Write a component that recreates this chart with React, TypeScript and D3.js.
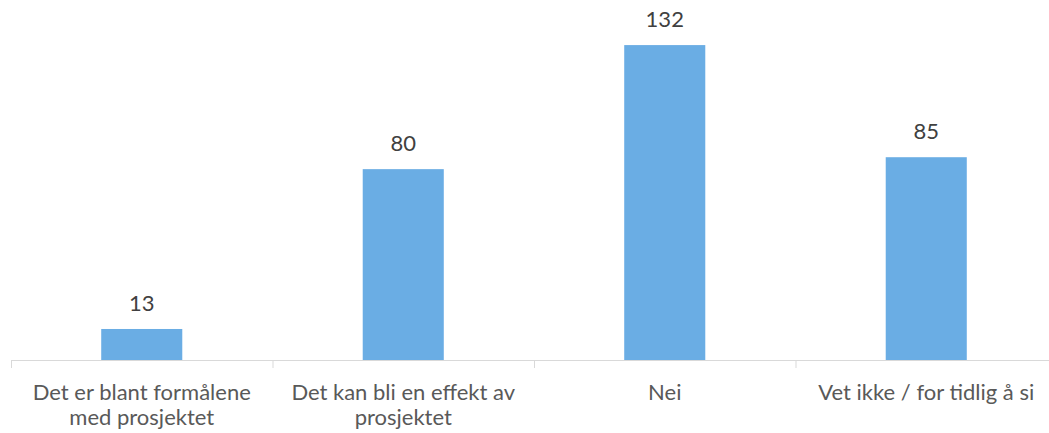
import React from "react";
import * as d3 from "d3";

const categories: string[][] = [
  ["Det er blant formålene", "med prosjektet"],
  ["Det kan bli en effekt av", "prosjektet"],
  ["Nei"],
  ["Vet ikke / for tidlig å si"],
];
const values: number[] = [13, 80, 132, 85];

const W = 1049;
const H = 433;
const FONT = "Lato, 'Open Sans', sans-serif";

export default function App() {
  const keys = categories.map((_, i) => String(i));
  const x = d3.scaleBand<string>().domain(keys).range([11, 1057]).paddingInner(0.69).paddingOuter(0.345);
  const xr = d3.scaleBand<string>().domain(keys).range([11, 1057]);
  const y = d3.scaleLinear().domain([0, 140]).range([360, 26]);

  return (
    <svg width={W} height={H} style={{ position: "absolute", left: 0, top: 0, background: "#fff" }}>
      {values.map((v, i) => (
        <rect key={i} x={x(String(i))} y={y(v)} width={x.bandwidth()} height={y(0) - y(v)} fill="#6AADE4" />
      ))}
      <line x1={11} x2={W} y1={360.5} y2={360.5} stroke="#D9D9D9" strokeWidth={1} />
      {keys.map((k) => (
        <line key={k} x1={(xr(k) as number) + 0.5} x2={(xr(k) as number) + 0.5} y1={360} y2={368} stroke="#D9D9D9" />
      ))}
      {values.map((v, i) => (
        <text key={i} x={(x(String(i)) as number) + x.bandwidth() / 2} y={y(v) - 18} textAnchor="middle"
          fontFamily={FONT} fontSize={22} fill="#404040">{v}</text>
      ))}
      {categories.map((lines, i) => (
        <text key={i} textAnchor="middle" fontFamily={FONT} fontSize={22} fill="#595959">
          {lines.map((l, j) => (
            <tspan key={j} x={(xr(String(i)) as number) + xr.bandwidth() / 2} y={400 + j * 25}>{l}</tspan>
          ))}
        </text>
      ))}
    </svg>
  );
}
